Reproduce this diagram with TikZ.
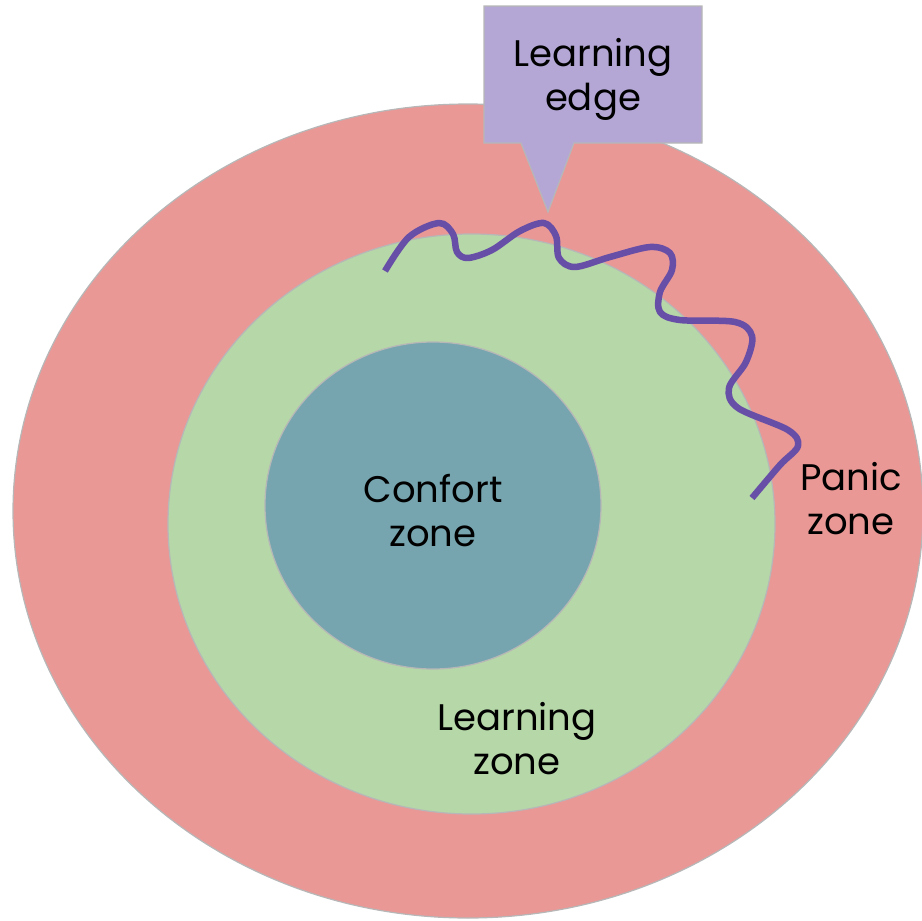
\documentclass[tikz,border=0pt]{standalone}
\usepackage{fontspec}
\setmainfont{Poppins}
\definecolor{panic}{HTML}{E99896}
\definecolor{learn}{HTML}{B6D7A8}
\definecolor{comfort}{HTML}{76A5AF}
\definecolor{edgebox}{HTML}{B4A7D6}
\definecolor{wave}{HTML}{674EA7}
\definecolor{rim}{HTML}{B7B7B7}
\tikzset{
  zone/.style={draw=rim, line width=1.2pt},
  lbl/.style={align=center, font=\fontsize{37}{44}\selectfont, text=black, inner sep=0pt},
}
\begin{document}
\begin{tikzpicture}[x=1pt,y=-1pt]
\useasboundingbox (0,0) rectangle (922,921);
\fill[panic, zone] (468,511) ellipse [x radius=455, y radius=407];
\fill[learn, zone] (471.5,524) ellipse [x radius=303.5, y radius=290];
\fill[comfort, zone] (433,505.5) ellipse [x radius=168, y radius=163.5];
\fill[edgebox, draw=rim, line width=1.2pt] (484,6) -- (702,6) -- (702,143) -- (574,143) -- (548,212) -- (521,143) -- (484,143) -- cycle;
\draw[wave, line width=6.5pt, line join=round] plot[smooth, tension=0.55] coordinates {
 (385,271) (409,237) (439,223) (453,234) (457,252) (468,258) (492,250) (520,231) (544,223) (556,236) (559,258) (575,267) (610,257) (650,247) (670,253) (672,270) (660,292) (660,312) (680,320) (735,322) (752,336) (746,362) (729,388) (738,408) (788,430) (798,446) (780,465) (752,498)};
\node[lbl] (edge) at (593,79) {Learning\\edge};
\node[lbl] (comfortlbl) at (433,511) {Confort\\zone};
\node[lbl] (learnlbl) at (517,739) {Learning\\zone};
\node[lbl] (panic) at (851,499) {Panic\\zone};
\end{tikzpicture}
\end{document}
